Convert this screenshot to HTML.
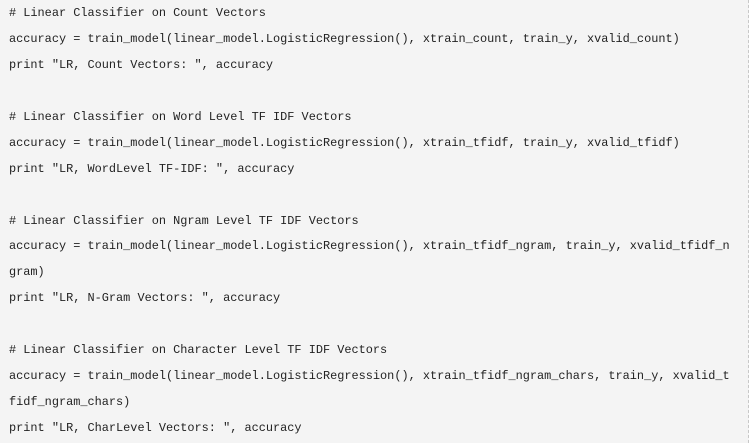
<!DOCTYPE html>
<html><head><style>
html,body{margin:0;padding:0;}
body{width:754px;height:443px;background:#fff;overflow:hidden;position:relative;}
.box{position:absolute;left:0;top:0;width:748px;height:443px;background:#f4f4f4;border-right:1px dashed #c8c8c8;}
pre{margin:0;position:absolute;left:9px;top:1px;font-family:"Liberation Mono",monospace;font-size:11.9px;line-height:25.94px;color:#222;white-space:pre;}
</style></head><body>
<div class="box"></div>
<pre># Linear Classifier on Count Vectors
accuracy = train_model(linear_model.LogisticRegression(), xtrain_count, train_y, xvalid_count)
print "LR, Count Vectors: ", accuracy

# Linear Classifier on Word Level TF IDF Vectors
accuracy = train_model(linear_model.LogisticRegression(), xtrain_tfidf, train_y, xvalid_tfidf)
print "LR, WordLevel TF-IDF: ", accuracy

# Linear Classifier on Ngram Level TF IDF Vectors
accuracy = train_model(linear_model.LogisticRegression(), xtrain_tfidf_ngram, train_y, xvalid_tfidf_n
gram)
print "LR, N-Gram Vectors: ", accuracy

# Linear Classifier on Character Level TF IDF Vectors
accuracy = train_model(linear_model.LogisticRegression(), xtrain_tfidf_ngram_chars, train_y, xvalid_t
fidf_ngram_chars)
print "LR, CharLevel Vectors: ", accuracy</pre>
</body></html>
